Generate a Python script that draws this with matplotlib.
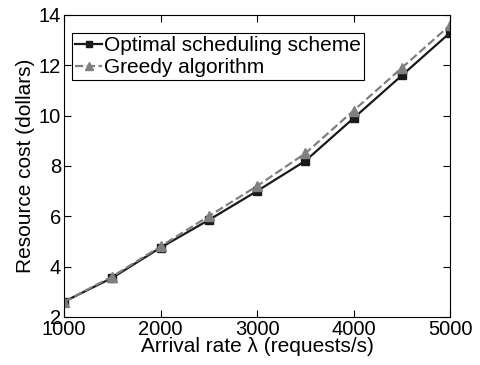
import matplotlib
matplotlib.use("Agg")
import matplotlib.pyplot as plt

plt.rcParams['font.family'] = ['Liberation Sans', 'DejaVu Sans']

rates = [1000, 1500, 2000, 2500, 3000, 3500, 4000, 4500, 5000]
optimal = [2.6, 3.55, 4.75, 5.85, 7.0, 8.2, 9.9, 11.6, 13.3]
greedy = [2.6, 3.6, 4.8, 6.0, 7.2, 8.5, 10.2, 11.9, 13.6]

fig = plt.figure(figsize=(4.81, 3.65), dpi=100)
ax = fig.add_axes([0.133, 0.132, 0.803, 0.827])

ax.plot(rates, optimal, '-s', color='#1a1a1a', linewidth=1.6, markersize=6,
        label='Optimal scheduling scheme')
ax.plot(rates, greedy, '--^', color='#808080', linewidth=1.6, markersize=7,
        label='Greedy algorithm')

ax.set_xlim(1000, 5000)
ax.set_ylim(2, 14)
ax.set_xticks([1000, 2000, 3000, 4000, 5000])
ax.set_yticks([2, 4, 6, 8, 10, 12, 14])
ax.tick_params(direction='in', top=True, right=True, labelsize=14.5, length=5, pad=2)
ax.set_xlabel('Arrival rate \u03bb (requests/s)', fontsize=15, labelpad=-1)
ax.set_ylabel('Resource cost (dollars)', fontsize=15, labelpad=3)

leg = ax.legend(loc='upper left', bbox_to_anchor=(0.021, 0.94), borderaxespad=0,
                fontsize=15, fancybox=False, framealpha=1, edgecolor='black',
                handlelength=1.3, handletextpad=0.1, markerscale=0.75,
                borderpad=0.15, labelspacing=0.15)
leg.get_frame().set_linewidth(0.8)

fig.savefig('out.png', dpi=100)
